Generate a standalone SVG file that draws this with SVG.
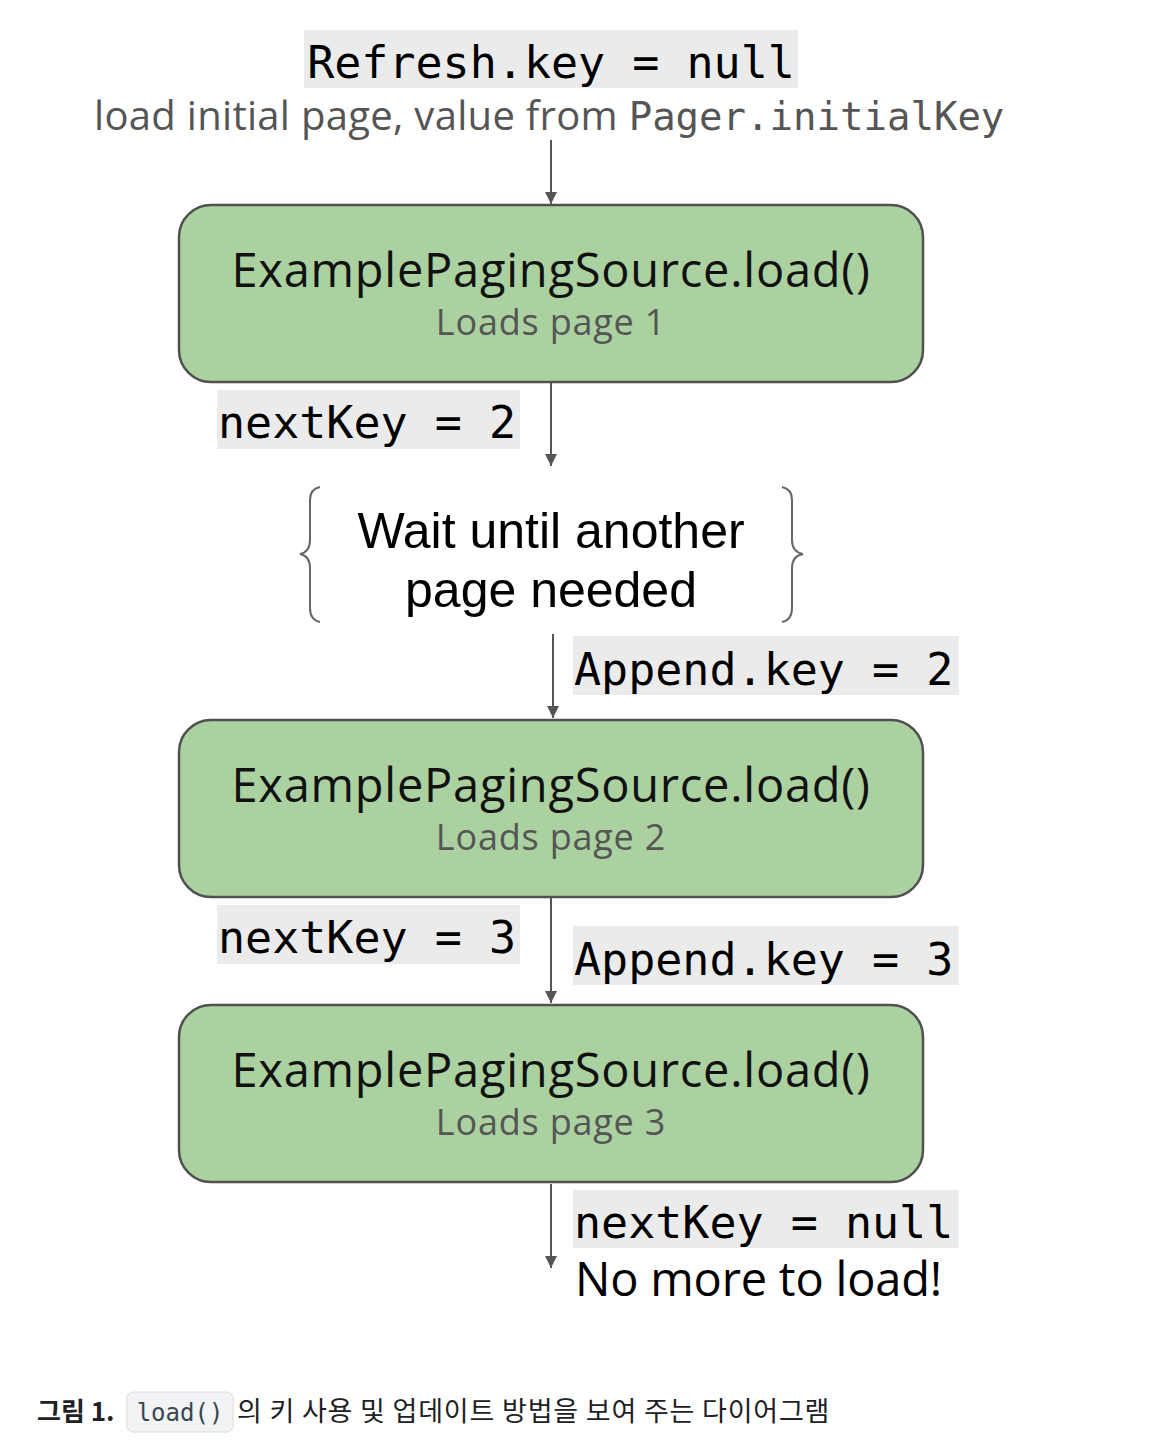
<svg xmlns="http://www.w3.org/2000/svg" width="1150" height="1450" viewBox="0 0 1150 1450">
<style>
.mono{font-family:"DejaVu Sans Mono","Liberation Mono",monospace;fill:#000}
.codebg{fill:#ebebeb}
.box{fill:#abd1a0;stroke:#505050;stroke-width:2.5}
.title{font-family:"Open Sans","Noto Sans",sans-serif;font-size:47px;fill:#111;text-anchor:middle;letter-spacing:0.75px}
.sub{font-family:"Open Sans","Noto Sans",sans-serif;font-size:36px;fill:#555;text-anchor:middle;letter-spacing:0.8px}
.conn{stroke:#555;stroke-width:2;fill:none}
.brace{stroke:#666;stroke-width:2;fill:none}
.arial{font-family:"Liberation Sans",Arial,sans-serif;font-size:50px;fill:#000;text-anchor:middle}
</style>
<defs>
<marker id="arr" markerWidth="12" markerHeight="14" refX="12" refY="6" orient="auto" markerUnits="userSpaceOnUse" viewBox="0 0 12 12">
<path d="M0,0 L12,6 L0,12 Z" fill="#555"/>
</marker>
</defs>
<rect width="1150" height="1450" fill="#fff"/>

<g id="header">
<rect class="codebg" x="304" y="30" width="494" height="58"/>
<text class="mono" x="551" y="78" font-size="45" text-anchor="middle">Refresh.key = null</text>
<text x="94" y="130" font-family="Open Sans,Noto Sans,sans-serif" font-size="40" fill="#555" letter-spacing="0.3">load initial page, value from <tspan font-family="DejaVu Sans Mono,Liberation Mono,monospace" font-size="39" letter-spacing="0">Pager.initialKey</tspan></text>
</g>

<g id="connectors">
<line class="conn" x1="551" y1="140" x2="551" y2="204" marker-end="url(#arr)"/>
<line class="conn" x1="551" y1="383" x2="551" y2="466" marker-end="url(#arr)"/>
<line class="conn" x1="553" y1="634" x2="553" y2="718" marker-end="url(#arr)"/>
<line class="conn" x1="551" y1="898" x2="551" y2="1003" marker-end="url(#arr)"/>
<line class="conn" x1="551" y1="1184" x2="551" y2="1268" marker-end="url(#arr)"/>
</g>

<g id="node1">
<rect class="box" x="179" y="205" width="744" height="177" rx="32"/>
<text class="title" x="551" y="287">ExamplePagingSource.load()</text>
<text class="sub" x="551" y="335">Loads page 1</text>
</g>

<g id="label-nextkey2">
<rect class="codebg" x="217" y="390" width="303" height="59"/>
<text class="mono" x="218" y="438" font-size="45">nextKey = 2</text>
</g>

<g id="wait">
<path class="brace" d="M320,487 Q310,489 310,500 L310,540 Q310,552 300,554 Q310,556 310,568 L310,608 Q310,620 320,622"/>
<path class="brace" d="M782,487 Q792,489 792,500 L792,540 Q792,552 803,554 Q792,556 792,568 L792,608 Q792,620 782,622"/>
<text class="arial" x="551" y="548">Wait until another</text>
<text class="arial" x="551" y="607">page needed</text>
</g>

<g id="label-append2">
<rect class="codebg" x="573" y="636" width="386" height="59"/>
<text class="mono" x="574" y="685" font-size="45">Append.key = 2</text>
</g>

<g id="node2">
<rect class="box" x="179" y="720" width="744" height="177" rx="32"/>
<text class="title" x="551" y="802">ExamplePagingSource.load()</text>
<text class="sub" x="551" y="850">Loads page 2</text>
</g>

<g id="label-nextkey3">
<rect class="codebg" x="217" y="905" width="303" height="59"/>
<text class="mono" x="218" y="953" font-size="45">nextKey = 3</text>
</g>

<g id="label-append3">
<rect class="codebg" x="573" y="926" width="386" height="59"/>
<text class="mono" x="574" y="975" font-size="45">Append.key = 3</text>
</g>

<g id="node3">
<rect class="box" x="179" y="1005" width="744" height="177" rx="32"/>
<text class="title" x="551" y="1087">ExamplePagingSource.load()</text>
<text class="sub" x="551" y="1135">Loads page 3</text>
</g>

<g id="label-end">
<rect class="codebg" x="573" y="1190" width="386" height="58"/>
<text class="mono" x="574" y="1238" font-size="45">nextKey = null</text>
<text x="575" y="1296" font-family="Open Sans,Noto Sans,sans-serif" font-size="47" fill="#000" letter-spacing="-0.2">No more to load!</text>
</g>

<g id="caption">
<text x="37" y="1421" font-family="Noto Sans CJK KR,Noto Sans,sans-serif" font-size="26" font-weight="bold" fill="#202124">그림 1.</text>
<rect x="127" y="1392" width="106" height="40" rx="6" fill="#f1f3f4" stroke="#dadce0" stroke-width="1"/>
<text x="180" y="1421" font-family="DejaVu Sans Mono,Liberation Mono,monospace" font-size="24" fill="#37474f" text-anchor="middle">load()</text>
<text x="237" y="1421" font-family="Noto Sans CJK KR,Noto Sans,sans-serif" font-size="27" fill="#202124" letter-spacing="0.8">의 키 사용 및 업데이트 방법을 보여 주는 다이어그램</text>
</g>
</svg>
